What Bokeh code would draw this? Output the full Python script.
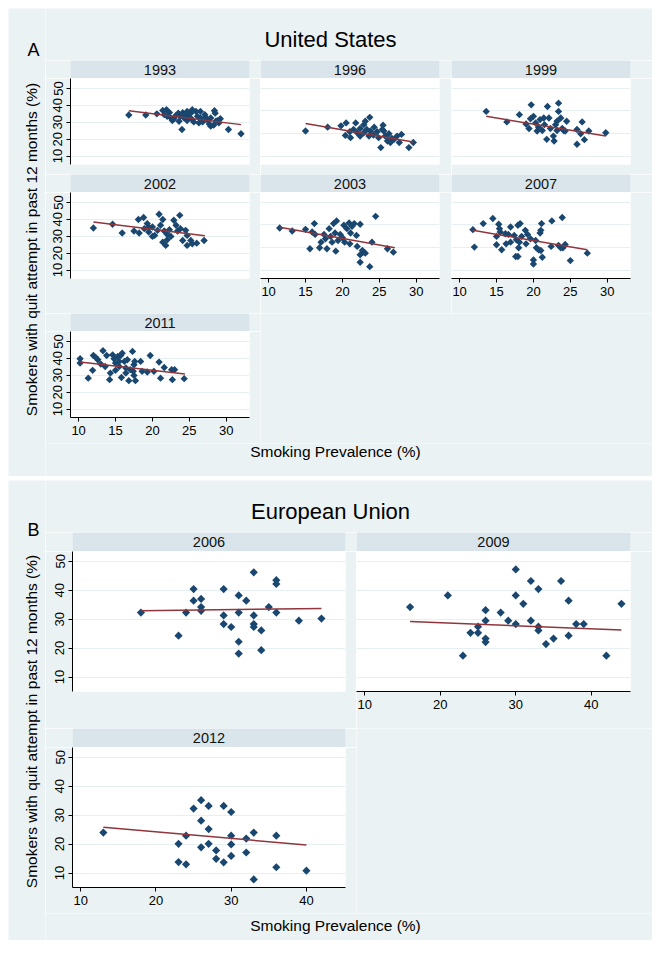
import numpy as np
from bokeh.plotting import figure
from bokeh.layouts import row, column
from bokeh.models import Range1d, FixedTicker, Label, Spacer
from bokeh.embed import file_html
from bokeh.resources import INLINE
from bokeh.core.validation import silence
from bokeh.core.validation.warnings import MISSING_RENDERERS

silence(MISSING_RENDERERS, True)

# ---------------- data ----------------
x_1993 = [16.8, 19.1, 20.6, 21.4, 21.9, 21.6, 22.0, 22.5, 22.9, 22.7, 23.5, 23.8, 24.1, 24.0, 24.3, 24.5,
          24.7, 24.9, 25.2, 25.4, 25.6, 25.9, 26.1, 26.3, 26.5, 26.8, 27.1, 27.4, 27.7, 27.9, 28.4, 28.6,
          27.9, 28.3, 28.5, 28.8, 29.0, 30.3, 32.0, 22.3, 23.2, 23.6, 24.7, 25.4, 26.5, 27.2, 29.2]
y_1993 = [34.3, 34.3, 35.0, 37.0, 37.4, 34.5, 33.5, 32.5, 32.1, 31.0, 35.4, 33.5, 35.6, 25.7, 32.5, 34.5,
          36.4, 33.5, 35.4, 31.6, 30.2, 36.4, 33.5, 29.6, 32.5, 30.2, 34.5, 31.6, 29.0, 32.5, 36.8, 30.6,
          27.7, 28.3, 35.4, 31.0, 29.6, 25.7, 23.2, 35.8, 34.1, 30.6, 31.0, 37.4, 36.4, 32.9, 32.1]
fit_1993 = ([16.8, 32.0], [36.8, 28.6])

x_1996 = [15.0, 18.0, 19.8, 20.5, 20.4, 21.0, 21.5, 22.0, 22.4, 22.9, 23.1, 23.7, 23.3, 23.8, 23.6, 24.3,
          24.7, 24.9, 25.2, 25.5, 25.6, 25.8, 26.1, 26.3, 26.5, 27.0, 27.4, 28.0, 27.7, 29.0, 29.6, 24.2,
          22.4, 21.1, 21.8, 22.9, 25.4, 26.7]
y_1996 = [24.8, 27.1, 27.9, 29.6, 22.2, 24.4, 25.7, 23.8, 26.3, 28.6, 30.6, 32.9, 25.7, 24.8, 21.8, 27.1,
          24.4, 20.9, 15.0, 28.3, 24.8, 21.8, 18.9, 23.2, 18.0, 19.9, 21.8, 22.8, 18.0, 15.0, 18.0, 22.4,
          21.8, 20.9, 29.6, 23.8, 25.7, 20.5]
fit_1996 = ([15.0, 29.6], [29.2, 18.3])

x_1999 = [13.6, 16.4, 18.1, 19.7, 19.6, 19.4, 20.0, 20.3, 20.7, 20.9, 21.2, 21.5, 21.9, 21.8, 22.1, 22.3,
          22.7, 22.8, 23.0, 23.2, 23.4, 23.4, 23.7, 23.9, 24.1, 24.5, 24.3, 25.9, 25.9, 26.6, 26.4, 26.9,
          27.5, 29.8, 20.5, 19.0, 21.4, 23.2]
y_1999 = [36.4, 30.2, 34.5, 40.3, 32.1, 26.3, 33.5, 29.6, 27.1, 31.6, 25.1, 28.6, 39.3, 19.9, 32.5, 26.3,
          21.8, 18.9, 28.6, 30.6, 41.3, 36.4, 32.5, 26.3, 25.1, 30.6, 24.8, 25.7, 17.0, 30.2, 23.2, 19.7,
          24.8, 23.8, 24.8, 29.0, 32.5, 25.1]
fit_1999 = ([13.6, 29.8], [33.5, 21.8])

x_2002 = [12.0, 14.6, 15.9, 17.5, 18.1, 18.8, 18.2, 18.9, 19.3, 19.5, 20.0, 20.3, 20.7, 20.9, 21.1, 21.4,
          21.4, 21.6, 21.8, 22.0, 22.3, 22.5, 22.9, 23.2, 23.4, 23.7, 23.8, 24.1, 24.5, 24.7, 24.7, 25.2,
          25.4, 26.0, 27.0, 22.0, 20.0, 19.5]
y_2002 = [34.9, 37.1, 31.9, 33.1, 39.9, 41.1, 31.9, 34.5, 37.5, 32.5, 35.5, 30.5, 33.5, 43.0, 36.5, 39.9,
          26.5, 33.1, 24.6, 31.1, 33.9, 29.9, 39.5, 36.5, 33.1, 42.4, 34.5, 27.5, 33.5, 30.5, 24.6, 27.5,
          25.5, 25.9, 27.5, 27.9, 29.9, 35.5]
fit_2002 = ([12.0, 27.1], [38.5, 30.3])

x_2003 = [11.5, 13.2, 15.0, 15.6, 16.2, 15.9, 16.3, 16.9, 17.1, 17.5, 17.7, 17.9, 18.2, 18.4, 18.8, 19.0,
          19.2, 19.1, 19.4, 19.7, 20.2, 20.3, 20.6, 20.9, 21.0, 21.3, 21.6, 21.9, 22.0, 22.4, 22.7, 22.4,
          22.9, 23.1, 22.4, 23.7, 24.0, 24.5, 26.1, 26.9, 21.1, 20.0, 18.6]
y_2003 = [34.9, 33.1, 34.1, 22.6, 37.5, 32.5, 31.1, 23.2, 26.5, 31.1, 28.5, 22.6, 34.5, 29.9, 37.5, 31.9,
          39.1, 21.2, 27.5, 31.1, 36.5, 26.5, 34.5, 37.9, 25.5, 35.9, 37.5, 30.5, 24.0, 37.1, 21.6, 19.0,
          20.6, 20.0, 14.6, 12.0, 26.5, 41.8, 22.6, 20.6, 31.9, 29.1, 26.5]
fit_2003 = ([11.5, 27.1], [35.3, 23.2])

x_2007 = [11.8, 12.0, 13.2, 14.5, 15.0, 15.0, 15.3, 15.4, 15.5, 15.7, 16.2, 16.3, 16.6, 16.9, 16.9, 17.4,
          17.6, 17.9, 17.7, 17.9, 18.0, 18.2, 18.1, 18.4, 18.9, 19.0, 19.2, 19.6, 20.0, 20.0, 20.3, 20.4,
          20.7, 20.9, 21.0, 21.1, 21.2, 21.0, 22.5, 22.4, 23.4, 23.7, 23.9, 24.0, 24.3, 25.0, 27.3]
y_2007 = [33.9, 23.6, 37.5, 40.5, 25.0, 29.9, 37.1, 34.5, 32.5, 22.0, 31.5, 25.5, 31.1, 35.5, 26.5, 30.5,
          18.0, 18.0, 27.9, 36.5, 23.2, 37.5, 26.5, 29.9, 33.5, 25.5, 31.1, 28.5, 16.0, 13.6, 27.5, 23.2,
          22.0, 31.9, 33.5, 37.5, 17.6, 21.6, 39.1, 24.0, 24.6, 23.2, 41.1, 23.2, 25.1, 15.6, 20.0]
fit_2007 = ([11.8, 27.3], [33.5, 22.0])

x_2011 = [10.2, 10.2, 11.3, 11.9, 12.0, 12.3, 12.6, 13.0, 13.3, 13.6, 13.8, 14.2, 14.3, 14.6, 14.8, 15.0,
          15.0, 15.3, 15.5, 15.7, 15.8, 15.9, 16.2, 16.4, 16.6, 16.8, 17.0, 17.3, 17.4, 17.5, 17.5, 17.6,
          17.7, 18.4, 18.6, 19.3, 19.7, 20.9, 21.1, 21.6, 22.6, 22.7, 23.0, 24.3, 16.4, 15.5, 20.2]
y_2011 = [39.8, 37.2, 28.3, 32.9, 41.7, 40.6, 39.2, 36.6, 44.5, 35.2, 41.7, 27.4, 31.3, 42.1, 39.8, 37.2,
          32.9, 41.1, 35.2, 41.7, 28.7, 43.1, 38.2, 34.3, 39.2, 26.8, 33.3, 44.1, 32.3, 36.2, 29.9, 38.2,
          26.8, 38.2, 32.3, 31.9, 41.7, 37.8, 28.3, 34.6, 33.3, 27.4, 33.3, 28.0, 31.3, 38.2, 32.3]
fit_2011 = ([10.2, 24.4], [37.8, 30.7])

x_2006 = [18, 23, 24, 25, 25, 26, 26, 26, 29, 29, 29, 30, 31, 31, 31, 31, 32, 33, 33, 33, 33, 34, 34, 35,
          36, 36, 36, 39, 42]
y_2006 = [32.3, 24.3, 32.3, 40.4, 36.4, 37.0, 34.2, 32.9, 40.4, 31.3, 28.3, 27.3, 38.2, 32.3, 22.2, 18.1,
          36.4, 46.2, 31.3, 28.3, 27.3, 26.1, 19.3, 34.2, 43.5, 42.2, 32.3, 29.5, 30.2]
fit_2006 = ([18, 42], [32.9, 33.7])

x_2009 = [16, 21, 23, 24, 25, 25, 26, 26, 26, 26, 28, 29, 30, 30, 30, 31, 32, 32, 33, 33, 33, 34, 35, 36,
          37, 37, 38, 39, 42, 44]
y_2009 = [34.2, 38.2, 17.4, 25.3, 27.4, 25.3, 33.1, 29.5, 23.3, 22.1, 32.3, 29.5, 47.2, 38.2, 28.3, 35.3,
          43.2, 29.5, 40.4, 27.4, 26.1, 21.4, 23.3, 43.2, 36.4, 24.3, 28.3, 28.3, 17.4, 35.3]
fit_2009 = ([16, 44], [29.2, 26.3])

x_2012 = [13, 23, 23, 24, 24, 25, 26, 26, 26, 27, 27, 27, 28, 28, 29, 29, 30, 30, 30, 30, 32, 32, 33, 33,
          36, 36, 40]
y_2012 = [24.0, 20.1, 13.8, 22.9, 13.0, 32.3, 35.2, 28.1, 18.9, 33.2, 25.2, 20.1, 17.8, 14.9, 33.2, 13.7,
          31.1, 22.9, 19.9, 15.9, 21.9, 17.1, 24.0, 7.8, 22.9, 12.0, 10.8]
fit_2012 = ([13, 40], [25.8, 19.7])

us_xticks = [10, 15, 20, 25, 30]
eu_xticks = [10, 20, 30, 40]
yticks = [10, 20, 30, 40, 50]
us_grid_right = [10, 23.33, 36.67, 50]

# ---------------- style ----------------
BG = "#EAF2F3"
HEAD = "#D9E5EB"
NAVY = "#1A476F"
MAROON = "#90353B"
GRID = "#E6EFF2"
FONT = "Liberation Sans"
TXT = "#000000"

US_XR = (8.9, 33.15)
US_YR = (5.0, 55.9)
EU_XR = (8.9, 45.2)
EU_YR = (5.0, 53.4)


def deco(w, h):
    p = figure(width=w, height=h, x_range=Range1d(0, w), y_range=Range1d(h, 0),
               toolbar_location=None, output_backend="svg", min_border=0,
               x_axis_location=None, y_axis_location=None)
    p.background_fill_color = BG
    p.border_fill_color = BG
    p.outline_line_color = None
    p.grid.visible = False
    return p


def lab(p, x, y, text, size, angle=0.0):
    p.add_layout(Label(x=x, y=y, text=text, text_font=FONT, text_font_size=f"{size}px",
                       text_color=TXT, text_align="center", text_baseline="middle", angle=angle))


def header(text, w, left, right, h):
    p = figure(width=w, height=h, x_range=Range1d(0, 1), y_range=Range1d(0, 1),
               toolbar_location=None, output_backend="svg",
               min_border_left=left, min_border_right=right, min_border_top=0, min_border_bottom=0,
               x_axis_location=None, y_axis_location=None)
    p.background_fill_color = HEAD
    p.border_fill_color = BG
    p.outline_line_color = None
    p.grid.visible = False
    p.add_layout(Label(x=0.5, y=0.5, text=text, text_font=FONT, text_font_size="14.5px",
                       text_color="#111111", text_align="center", text_baseline="middle"))
    return p


def style_axis(ax, ticks, vertical=False):
    ax.ticker = FixedTicker(ticks=ticks)
    ax.minor_tick_line_color = None
    ax.major_tick_out = 4
    ax.major_tick_in = 0
    ax.major_label_standoff = 4
    ax.major_label_text_font = FONT
    ax.major_label_text_font_size = "13px"
    ax.major_label_text_color = TXT
    ax.axis_line_color = "#000000"
    ax.major_tick_line_color = "#000000"
    if vertical:
        ax.major_label_orientation = "vertical"


def subplot(xs, ys, fit, w, h, left, right, bottom, xr, yr, xticks, show_x, show_y, gridticks, msize):
    p = figure(width=w, height=h, x_range=Range1d(*xr), y_range=Range1d(*yr),
               toolbar_location=None, output_backend="svg",
               min_border_left=left, min_border_right=right, min_border_top=0, min_border_bottom=bottom,
               x_axis_location="below" if show_x else None,
               y_axis_location="left" if show_y else None)
    p.background_fill_color = "white"
    p.border_fill_color = BG
    p.outline_line_color = None
    p.xgrid.visible = False
    p.ygrid.ticker = FixedTicker(ticks=gridticks)
    p.ygrid.grid_line_color = GRID
    p.ygrid.grid_line_width = 1
    if show_x:
        style_axis(p.xaxis[0], xticks)
    if show_y:
        style_axis(p.yaxis[0], yticks, vertical=True)
    p.scatter(xs, ys, marker="square", angle=np.pi / 4, size=msize,
              fill_color=NAVY, line_color=None)
    p.line(fit[0], fit[1], line_color=MAROON, line_width=1.5)
    return p


def cell(year, xs, ys, fit, geom, hh, ph, bottom, xr, yr, xticks, show_x, show_y, gridticks, msize):
    w, left, right = geom
    hd = header(year, w, left, right, hh)
    sp = subplot(xs, ys, fit, w, ph, left, right, bottom, xr, yr, xticks, show_x, show_y, gridticks, msize)
    return column(hd, sp)


# ---------------- Panel A: United States ----------------
US_COLS = [(215, 25, 11), (191, 0, 12), (201, 0, 22)]
MS_US = 5.2

a_r1 = row(
    cell("1993", x_1993, y_1993, fit_1993, US_COLS[0], 18, 96, 10, US_XR, US_YR, us_xticks, False, True, yticks, MS_US),
    cell("1996", x_1996, y_1996, fit_1996, US_COLS[1], 18, 96, 10, US_XR, US_YR, us_xticks, False, False, us_grid_right, MS_US),
    cell("1999", x_1999, y_1999, fit_1999, US_COLS[2], 18, 96, 10, US_XR, US_YR, us_xticks, False, False, us_grid_right, MS_US),
)
a_r2 = row(
    cell("2002", x_2002, y_2002, fit_2002, US_COLS[0], 18, 121, 35, US_XR, US_YR, us_xticks, False, True, yticks, MS_US),
    cell("2003", x_2003, y_2003, fit_2003, US_COLS[1], 18, 121, 35, US_XR, US_YR, us_xticks, True, False, us_grid_right, MS_US),
    cell("2007", x_2007, y_2007, fit_2007, US_COLS[2], 18, 121, 35, US_XR, US_YR, us_xticks, True, False, us_grid_right, MS_US),
)
a_r3 = row(
    cell("2011", x_2011, y_2011, fit_2011, US_COLS[0], 18, 112, 26, US_XR, US_YR, us_xticks, True, True, yticks, MS_US),
    deco(392, 130),
)

a_left = deco(37, 468)
lab(a_left, 25, 41.5, "A", 18)
lab(a_left, 23, 241, "Smokers with quit attempt in past 12 months (%)", 15.5, np.pi / 2)
a_title = deco(607, 52)
lab(a_title, 285, 31, "United States", 22)
a_xt = deco(607, 33)
lab(a_xt, 290, 8, "Smoking Prevalence (%)", 15.5)

panelA = row(a_left, column(a_title, a_r1, a_r2, a_r3, a_xt))

# ---------------- Panel B: European Union ----------------
EU_COLS = [(311, 27, 11), (296, 0, 22)]
MS_EU = 5.8

b_r1 = row(
    cell("2006", x_2006, y_2006, fit_2006, EU_COLS[0], 19, 177, 37, EU_XR, EU_YR, eu_xticks, False, True, yticks, MS_EU),
    cell("2009", x_2009, y_2009, fit_2009, EU_COLS[1], 19, 177, 37, EU_XR, EU_YR, eu_xticks, True, False, yticks, MS_EU),
)
b_r2 = row(
    cell("2012", x_2012, y_2012, fit_2012, EU_COLS[0], 19, 166, 26, EU_XR, EU_YR, eu_xticks, True, True, yticks, MS_EU),
    deco(296, 185),
)

b_left = deco(37, 460)
lab(b_left, 25, 49.5, "B", 18)
lab(b_left, 23, 241, "Smokers with quit attempt in past 12 months (%)", 15.5, np.pi / 2)
b_title = deco(607, 52)
lab(b_title, 285, 31, "European Union", 22)
b_xt = deco(607, 27)
lab(b_xt, 290, 12, "Smoking Prevalence (%)", 15.5)

panelB = row(b_left, column(b_title, b_r1, b_r2, b_xt))

content = column(panelA, Spacer(width=644, height=4), panelB)
root = row(Spacer(width=8, height=8), column(Spacer(width=644, height=8), content))

with open("out.html", "w") as f:
    f.write(file_html(root, INLINE))
